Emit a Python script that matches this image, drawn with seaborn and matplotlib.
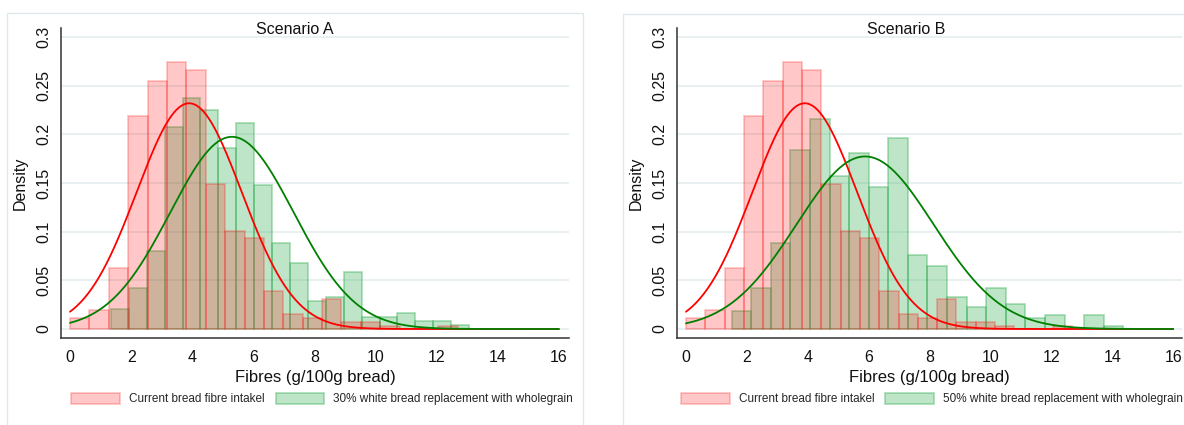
import numpy as np
import pandas as pd
import seaborn as sns
import matplotlib.pyplot as plt
from matplotlib.patches import Patch, Rectangle

# bin edges of the histograms (Stata default: 20 bins from min to max)
red_edges = np.linspace(0.0, 12.69, 21)
green_a_edges = np.linspace(1.34, 13.06, 21)
green_b_edges = np.linspace(1.50, 14.36, 21)

# densities
red_dens = [0.011, 0.0195, 0.0624, 0.219, 0.2548, 0.2743, 0.2664, 0.1487, 0.101, 0.0932,
            0.039, 0.0151, 0.011, 0.031, 0.007, 0.007, 0.0034, 0.0, 0.0, 0.0034]
green_a_dens = [0.0205, 0.0418, 0.080, 0.2075, 0.2373, 0.2247, 0.1863, 0.2116, 0.148, 0.0887,
                0.0675, 0.029, 0.0332, 0.0589, 0.012, 0.012, 0.0161, 0.0082, 0.0082, 0.0041]
green_b_dens = [0.0185, 0.0418, 0.088, 0.1842, 0.2154, 0.157, 0.1805, 0.1456, 0.1959, 0.076,
                0.0647, 0.0332, 0.0223, 0.0418, 0.026, 0.011, 0.0144, 0.0, 0.0144, 0.0028]

# fitted normal curves (mean, sd)
red_fit = (3.9, 1.72)
green_a_fit = (5.3, 2.02)
green_b_fit = (5.88, 2.25)

titles = ["Scenario A", "Scenario B"]
red_label = "Current bread fibre intakel"
green_labels = ["30% white bread replacement with wholegrain",
                "50% white bread replacement with wholegrain"]
x_ticks = list(range(0, 17, 2))
y_ticks = [0, 0.05, 0.1, 0.15, 0.2, 0.25, 0.3]
y_tick_labels = ["0", "0.05", "0.1", "0.15", "0.2", "0.25", "0.3"]

RED = (1.0, 0.0, 0.0)
GREEN_FILL = (0.18, 0.67, 0.31)
GREEN_LINE = (0.0, 0.5, 0.0)
GRID = "#e6eff1"
FRAME = "#dde9ec"

sns.set_style("white")
plt.rcParams["font.family"] = ["Liberation Sans", "DejaVu Sans"]

W, H = 1184, 425
fig = plt.figure(figsize=(W / 100, H / 100), dpi=100)


def fx(px):
    return px / W


def fy(py):
    return 1 - py / H


# light panel frames
fig.patches.append(Rectangle((fx(7), fy(440)), fx(576), fy(13) - fy(440),
                             transform=fig.transFigure, fill=False, ec=FRAME, lw=1))
fig.patches.append(Rectangle((fx(623), fy(440)), fx(600), fy(14) - fy(440),
                             transform=fig.transFigure, fill=False, ec=FRAME, lw=1))

panels = [
    dict(ax_px=(61, 569), xlim=(-0.295, 16.33), green_edges=green_a_edges,
         green_dens=green_a_dens, green_fit=green_a_fit, title_x=295, leg_x=322),
    dict(ax_px=(677, 1182), xlim=(-0.296, 16.29), green_edges=green_b_edges,
         green_dens=green_b_dens, green_fit=green_b_fit, title_x=906, leg_x=932),
]

xs = np.linspace(0, 16, 400)


def normal_pdf(x, mu, sd):
    return np.exp(-0.5 * ((x - mu) / sd) ** 2) / (sd * np.sqrt(2 * np.pi))


def bins_frame(edges, dens):
    edges = np.asarray(edges)
    return pd.DataFrame({"x": (edges[:-1] + edges[1:]) / 2, "w": dens})


for i, p in enumerate(panels):
    x0, x1 = p["ax_px"]
    ax = fig.add_axes([fx(x0), fy(338), fx(x1 - x0), fy(28) - fy(338)])

    g_df = bins_frame(p["green_edges"], p["green_dens"])
    r_df = bins_frame(red_edges, red_dens)

    sns.histplot(data=g_df, x="x", weights="w", bins=list(p["green_edges"]), stat="count",
                 color=GREEN_FILL, alpha=0.3, edgecolor=(*GREEN_FILL, 0.38),
                 linewidth=1.3, ax=ax)
    sns.histplot(data=r_df, x="x", weights="w", bins=list(red_edges), stat="count",
                 color=RED, alpha=0.22, edgecolor=(*RED, 0.22),
                 linewidth=1.3, ax=ax)

    sns.lineplot(x=xs, y=normal_pdf(xs, *red_fit), color=RED, lw=1.3,
                 estimator=None, ax=ax)
    sns.lineplot(x=xs, y=normal_pdf(xs, *p["green_fit"]), color=GREEN_LINE, lw=1.3,
                 estimator=None, ax=ax)

    ax.set_xlim(*p["xlim"])
    ax.set_ylim(-0.00925, 0.3093)
    ax.set_xticks(x_ticks)
    ax.set_yticks(y_ticks)
    ax.set_yticklabels(y_tick_labels, rotation=90, va="center")
    ax.tick_params(axis="both", direction="out", length=4, width=1, color="#333333",
                   labelsize=11.5, pad=5, labelcolor="#111111")
    ax.tick_params(axis="y", pad=3)
    ax.grid(axis="y", color=GRID, lw=1.3)
    ax.set_axisbelow(True)
    for s in ["top", "right"]:
        ax.spines[s].set_visible(False)
    for s in ["left", "bottom"]:
        ax.spines[s].set_color("#333333")
        ax.spines[s].set_linewidth(1.1)

    ax.set_xlabel("Fibres (g/100g bread)", fontsize=12, labelpad=3, color="#111111")
    ax.set_ylabel("Density", fontsize=11.5, color="#111111")
    ax.yaxis.set_label_coords(-33.5 / (x1 - x0), 0.5)

    fig.text(fx(p["title_x"]), fy(29), titles[i], ha="center", va="center",
             fontsize=11.5, color="#111111")

    handles = [Patch(facecolor=(*RED, 0.22), edgecolor=(*RED, 0.22), lw=1.3),
               Patch(facecolor=(*GREEN_FILL, 0.3), edgecolor=(*GREEN_FILL, 0.38), lw=1.3)]
    ax.legend(handles, [red_label, green_labels[i]], loc="center",
              bbox_to_anchor=(fx(p["leg_x"]), fy(399)), bbox_transform=fig.transFigure,
              ncol=2, frameon=False, fontsize=8.5, handlelength=4.1, handleheight=1.1,
              handletextpad=0.75, columnspacing=0.95)

fig.savefig("out.png", dpi=100)
